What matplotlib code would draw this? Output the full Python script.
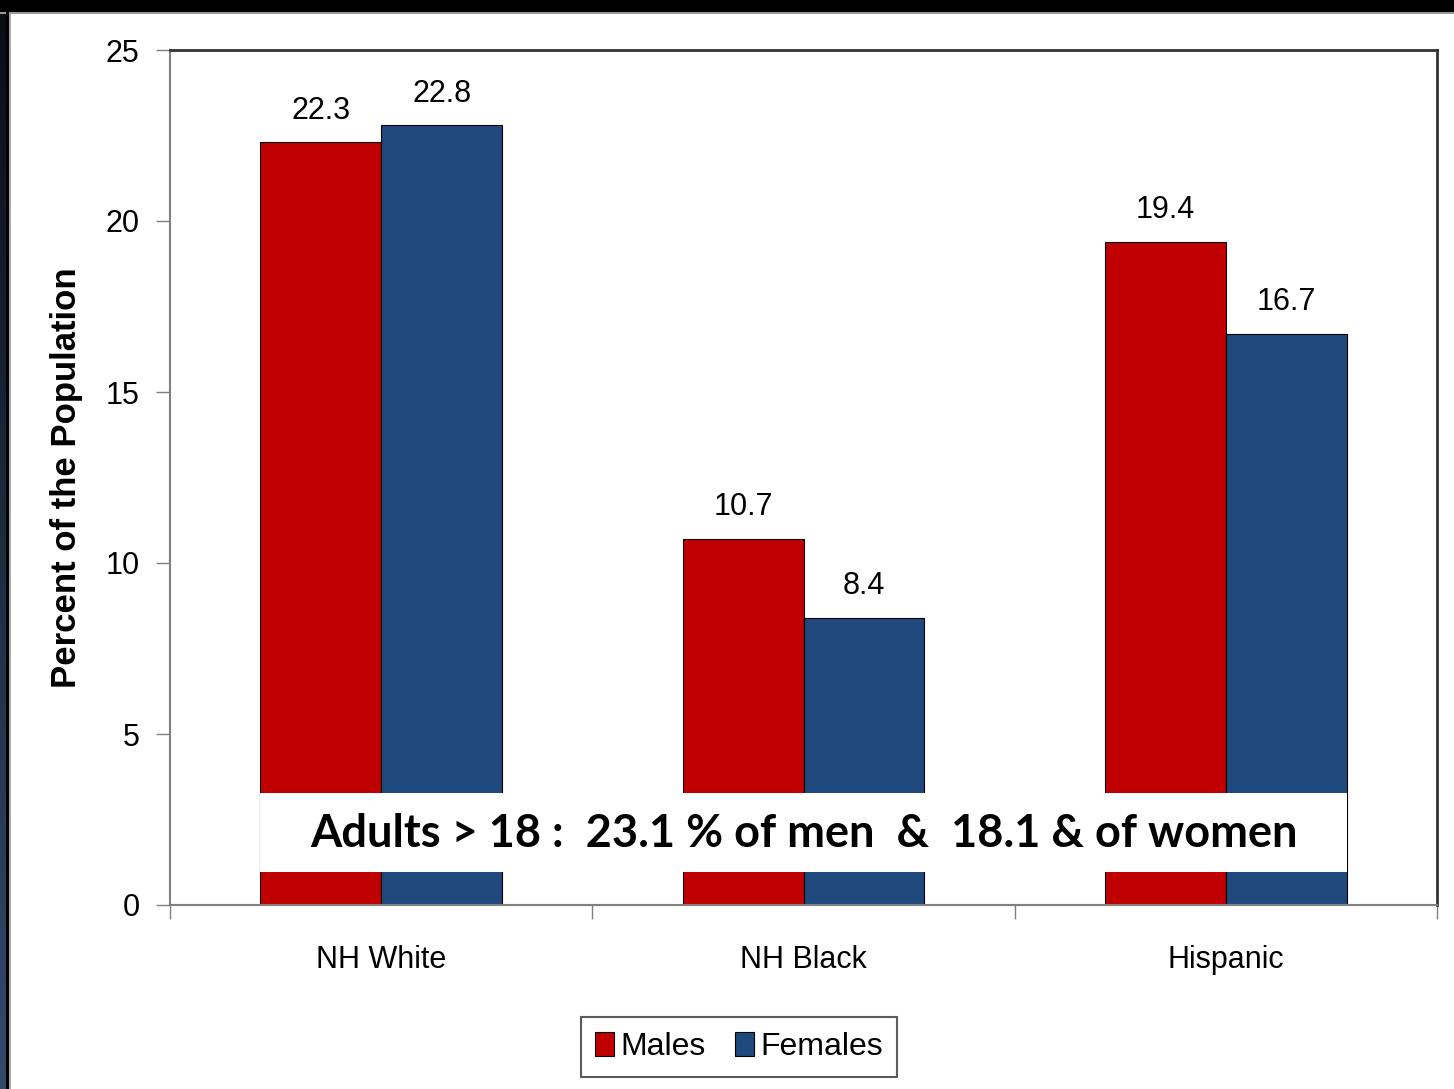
import matplotlib.pyplot as plt
import numpy as np
from matplotlib.patches import Rectangle
from matplotlib.colors import LinearSegmentedColormap

groups = ["NH White", "NH Black", "Hispanic"]
males = [22.3, 10.7, 19.4]
females = [22.8, 8.4, 16.7]
series_names = ["Males", "Females"]
note = "Adults > 18 :  23.1 % of men  &  18.1 & of women"

plt.rcParams['font.family'] = ['Liberation Sans', 'DejaVu Sans']

fig = plt.figure(figsize=(14.54, 10.89), dpi=100)
fig.patch.set_facecolor('white')

# slide frame: black band on top, dark strip on the left
fig.patches.append(Rectangle((0, 1 - 12 / 1089), 1, 12 / 1089, transform=fig.transFigure,
                             facecolor='black', edgecolor='none'))
fig.patches.append(Rectangle((0, 1 - 14 / 1089), 1, 2 / 1089, transform=fig.transFigure,
                             facecolor='#9a9a9a', edgecolor='none'))
strip = fig.add_axes([0, 0, 6 / 1454, 1 - 12 / 1089])
grad = np.linspace(0, 1, 256).reshape(-1, 1)
cm = LinearSegmentedColormap.from_list('edge', ['#34496e', '#0a0d14'])
strip.imshow(grad, aspect='auto', cmap=cm, origin='lower')
strip.axis('off')
fig.patches.append(Rectangle((6 / 1454, 0), 3 / 1454, 1 - 12 / 1089, transform=fig.transFigure,
                             facecolor='black', edgecolor='none'))
fig.patches.append(Rectangle((9 / 1454, 0), 2 / 1454, 1 - 14 / 1089, transform=fig.transFigure,
                             facecolor='#a8a8a8', edgecolor='none'))

ax = fig.add_axes([170 / 1454, 184 / 1089, 1267 / 1454, 855 / 1089])

x = np.arange(len(groups))
w = 0.2865
b1 = ax.bar(x - w / 2, males, w, color='#C00000', edgecolor='black', linewidth=0.8,
            label=series_names[0], zorder=2)
b2 = ax.bar(x + w / 2, females, w, color='#1F497D', edgecolor='black', linewidth=0.8,
            label=series_names[1], zorder=2)

for bars, vals in ((b1, males), (b2, females)):
    for r, v in zip(bars, vals):
        ax.annotate(f"{v}", (r.get_x() + r.get_width() / 2, v), xytext=(0, 12),
                    textcoords='offset points', ha='center', va='bottom', fontsize=22)

ax.set_xlim(-0.5, 2.5)
ax.set_ylim(0, 25)
ax.set_yticks([0, 5, 10, 15, 20, 25])
ax.tick_params(axis='y', labelsize=22, length=10, width=1, color='#808080', pad=12)
ax.set_xticks(x)
ax.set_xticklabels(groups)
ax.tick_params(axis='x', which='major', labelsize=22, length=0, pad=29)
ax.set_xticks([-0.5, 0.5, 1.5, 2.5], minor=True)
ax.tick_params(axis='x', which='minor', length=10, width=1, color='#808080')

for s in ('left', 'bottom'):
    ax.spines[s].set_color('#808080')
    ax.spines[s].set_linewidth(1.5)
for s in ('top', 'right'):
    ax.spines[s].set_color('#333333')
    ax.spines[s].set_linewidth(2)

ax.set_ylabel("Percent of the Population", fontsize=25, fontweight='bold', labelpad=16)

# white note box across the bottom of the bars
ax.add_patch(Rectangle((-w, 0.965), 2 + 2 * w, 2.31, facecolor='white', edgecolor='none', zorder=3))
ax.text(1.0, 2.08, note, ha='center', va='center', fontsize=32.5, fontweight='bold',
        family=['Lato', 'DejaVu Sans'], zorder=4)

leg = ax.legend(loc='center', bbox_to_anchor=(739 / 1454, 1 - 1047 / 1089),
                bbox_transform=fig.transFigure, ncol=2, fontsize=23, frameon=True,
                fancybox=False, edgecolor='#333333', handlelength=0.6, handleheight=0.8,
                handletextpad=0.2, columnspacing=0.9, borderpad=0.45)
leg.get_frame().set_linewidth(1.5)

fig.savefig('out.png', dpi=100, facecolor='white')
